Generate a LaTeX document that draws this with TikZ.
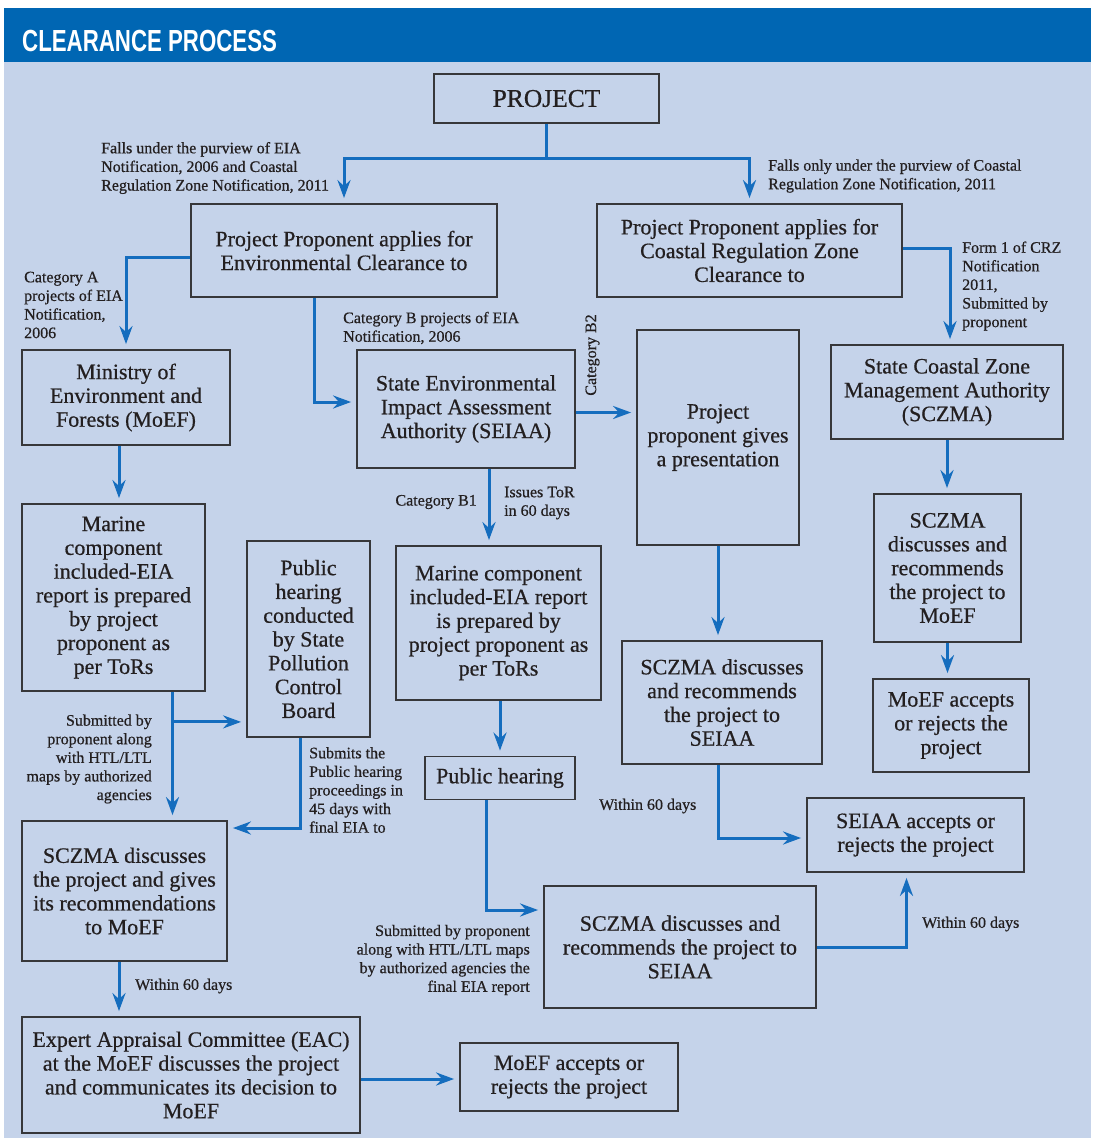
\documentclass[tikz,border=0pt]{standalone}
\usepackage{fontspec}
\setmainfont{Liberation Serif}[FakeBold=0.6]
\newfontfamily\titlefont{Liberation Sans}
\usetikzlibrary{arrows.meta}
\definecolor{barblue}{RGB}{0,102,179}
\definecolor{bgblue}{RGB}{197,211,234}
\definecolor{flowblue}{RGB}{21,109,190}
\definecolor{boxgray}{RGB}{55,55,58}
\definecolor{ink}{RGB}{35,31,32}

\begin{document}
\begin{tikzpicture}[x=1pt,y=-1pt,
  box/.style={draw=boxgray,line width=1.8pt,align=center,inner sep=0pt,text=ink,font=\fontsize{22}{23.8}\selectfont},
  note/.style={inner sep=0pt,text=ink,font=\fontsize{16}{18.6}\selectfont},
  link/.style={draw=flowblue,line width=3pt},
  flow/.style={link,-{Stealth[length=18pt,width=13pt,inset=6pt]},shorten >=5pt}]
\useasboundingbox (0,0) rectangle (1095,1138);
\fill[bgblue] (4,62) rectangle (1091,1138);
\fill[barblue] (4,8) rectangle (1091,62);
\node[anchor=west,inner sep=0pt,text=white,font=\titlefont\bfseries\fontsize{30.5}{31}\selectfont] (title) at (22,41) {\scalebox{0.73}[1]{CLEARANCE PROCESS}};

% boxes
\node[box,minimum width=225pt,minimum height=49pt,font=\fontsize{25.5}{26}\selectfont] (proj) at (546.5,98.5) {PROJECT};
\node[box,minimum width=306pt,minimum height=93pt] (ec) at (344,250.5) {Project Proponent applies for\\Environmental Clearance to};
\node[box,minimum width=305pt,minimum height=93pt] (crz) at (749.5,250.5) {Project Proponent applies for\\Coastal Regulation Zone\\Clearance to};
\node[box,minimum width=208pt,minimum height=95pt] (moef) at (126,397.5) {Ministry of\\Environment and\\Forests (MoEF)};
\node[box,minimum width=218pt,minimum height=118pt] (seiaa) at (466,409) {State Environmental\\Impact Assessment\\Authority (SEIAA)};
\node[box,minimum width=162pt,minimum height=215pt] (pres) at (718,437.5) {Project\\proponent gives\\a presentation};
\node[box,minimum width=232pt,minimum height=94pt] (sczA) at (947,392) {State Coastal Zone\\Management Authority\\(SCZMA)};
\node[box,minimum width=183pt,minimum height=187pt] (marA) at (113.5,597.5) {Marine\\component\\included-EIA\\report is prepared\\by project\\proponent as\\per ToRs};
\node[box,minimum width=123pt,minimum height=196pt] (spcb) at (308.5,639) {Public\\hearing\\conducted\\by State\\Pollution\\Control\\Board};
\node[box,minimum width=205pt,minimum height=154pt] (marB) at (498.5,623) {Marine component\\included-EIA report\\is prepared by\\project proponent as\\per ToRs};
\node[box,minimum width=147pt,minimum height=148pt] (sczR) at (947.5,568) {SCZMA\\discusses and\\recommends\\the project to\\MoEF};
\node[box,minimum width=156pt,minimum height=93pt] (moefR) at (951,725.5) {MoEF accepts\\or rejects the\\project};
\node[box,minimum width=200pt,minimum height=123pt] (sczB) at (722,702.5) {SCZMA discusses\\and recommends\\the project to\\SEIAA};
\node[box,minimum width=150pt,minimum height=43pt] (ph) at (500,778) {Public hearing};
\node[box,minimum width=217pt,minimum height=74pt] (seiaaAcc) at (915.5,835) {SEIAA accepts or\\rejects the project};
\node[box,minimum width=272pt,minimum height=122pt] (sczM) at (680,947) {SCZMA discusses and\\recommends the project to\\SEIAA};
\node[box,minimum width=205pt,minimum height=140pt] (sczL) at (124.5,891) {SCZMA discusses\\the project and gives\\its recommendations\\to MoEF};
\node[box,minimum width=338pt,minimum height=116pt] (eac) at (191,1075) {Expert Appraisal Committee (EAC)\\at the MoEF discusses the project\\and communicates its decision to\\MoEF};
\node[box,minimum width=218pt,minimum height=68pt] (moefB) at (569,1077) {MoEF accepts or\\rejects the project};

% connectors
\coordinate (split) at (546.5,158);
\draw[link] (proj.south) -- (split);
\draw[flow] (split) -| (ec.north);
\draw[flow] (split) -| (crz.north);
\draw[flow] ([yshift=-6.5pt]ec.west) -| (moef.north);
\draw[flow] ([xshift=-30pt]ec.south) |- ([yshift=7pt]seiaa.west);
\draw[flow] ([yshift=2.5pt]crz.east) -| ([xshift=3pt]sczA.north);
\draw[flow] ([xshift=-7pt]moef.south) -- ([xshift=-7pt]moef.south |- marA.north);
\draw[flow] ([yshift=-3.5pt]seiaa.east) -- ([yshift=-3.5pt]seiaa.east -| pres.west);
\draw[flow] ([xshift=23pt]seiaa.south) -- ([xshift=23pt]seiaa.south |- marB.north);
\draw[flow] (sczA.south) -- (sczA.south |- sczR.north);
\draw[flow] (sczR.south) -- (sczR.south |- moefR.north);
\draw[flow] (pres.south) -- (pres.south |- sczB.north);
\draw[flow] ([xshift=-4pt]sczB.south) |- ([yshift=-3pt]seiaaAcc.west);
\coordinate (brA) at ([xshift=59pt,yshift=-30pt]marA.south);
\draw[flow] ([xshift=59pt]marA.south) -- ([xshift=59pt]marA.south |- sczL.north);
\draw[flow] (brA) -- (brA -| spcb.west);
\draw[flow] ([xshift=-8pt]spcb.south) |- ([yshift=63pt]sczL.east);
\draw[flow] (ph.north |- marB.south) -- (ph.north);
\draw[flow] ([xshift=-13.5pt]ph.south) |- ([yshift=37pt]sczM.west);
\draw[flow] (sczM.east) -| ([xshift=-9pt]seiaaAcc.south);
\draw[flow] ([xshift=-5.5pt]sczL.south) -- ([xshift=-5.5pt]sczL.south |- eac.north);
\draw[flow] ([yshift=-4pt]eac.east) -- ([yshift=-4pt]eac.east -| moefB.west);

% labels
\node[note,anchor=west,align=left] (lEIACRZ) at (101,168) {Falls under the purview of EIA\\Notification, 2006 and Coastal\\Regulation Zone Notification, 2011};
\node[note,anchor=west,align=left] (lCRZonly) at (768,176) {Falls only under the purview of Coastal\\Regulation Zone Notification, 2011};
\node[note,anchor=west,align=left] (lCatA) at (24,305) {Category A\\projects of EIA\\Notification,\\2006};
\node[note,anchor=west,align=left] (lCatB) at (343,328) {Category B projects of EIA\\Notification, 2006};
\node[note,rotate=90] (lCatBtwo) at (592.5,355) {Category B2};
\node[note,anchor=east] (lCatBone) at (477,502) {Category B1};
\node[note,anchor=west,align=left] (lToR) at (504,503) {Issues ToR\\in 60 days};
\node[note,anchor=west,align=left] (lForm) at (962,286) {Form 1 of CRZ\\Notification\\2011,\\Submitted by\\proponent};
\node[note,anchor=east,align=right] (lSubA) at (152,759) {Submitted by\\proponent along\\with HTL/LTL\\maps by authorized\\agencies};
\node[note,anchor=west,align=left] (lSubPH) at (309,790) {Submits the\\Public hearing\\proceedings in\\45 days with\\final EIA to};
\node[note,anchor=east,align=right] (lSubB) at (530,960) {Submitted by proponent\\along with HTL/LTL maps\\by authorized agencies the\\final EIA report};
\node[note,anchor=west] (lDaysA) at (135,986) {Within 60 days};
\node[note,anchor=west] (lDaysB) at (599,806) {Within 60 days};
\node[note,anchor=west] (lDaysC) at (922,924) {Within 60 days};
\end{tikzpicture}
\end{document}
